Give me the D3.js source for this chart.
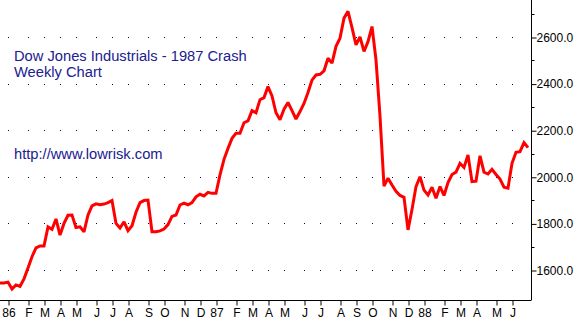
<!DOCTYPE html>
<html>
<head>
<meta charset="utf-8">
<script src="https://cdn.jsdelivr.net/npm/d3@7"></script>
<style>
    body { margin: 0; background: #ffffff; }
    svg { display: block; }
</style>
</head>
<body>
<svg id="dow-chart" width="577" height="319"></svg>
<script>
// Weekly closes (Friday)
var firstWeek = new Date(1985, 11, 20);
var lastWeek = new Date(1988, 6, 2);
var weeklyCloses = [
    1544, 1544, 1548, 1518, 1536, 1530, 1562, 1609, 1657, 1695, 1703, 1703,
    1785, 1775, 1819, 1750, 1800, 1835, 1836, 1782, 1785, 1764, 1836, 1875,
    1884, 1880, 1883, 1889, 1898, 1800, 1780, 1807, 1769, 1790, 1848, 1889,
    1898, 1900, 1764, 1764, 1768, 1776, 1795, 1830, 1836, 1879, 1887, 1880,
    1889, 1914, 1925, 1918, 1933, 1929, 1929, 2008, 2075, 2122, 2165, 2187,
    2187, 2232, 2240, 2284, 2275, 2331, 2340, 2387, 2347, 2275, 2245, 2290,
    2319, 2284, 2248, 2280, 2315, 2362, 2415, 2437, 2440, 2455, 2509, 2488,
    2560, 2595, 2681, 2710, 2640, 2566, 2600, 2538, 2580, 2645, 2502, 2260,
    1960, 1994, 1965, 1938, 1920, 1912, 1772, 1860, 1958, 2000, 1943, 1922,
    1955, 1908, 1958, 1920, 1975, 2010, 2020, 2058, 2040, 2094, 1979, 1981,
    2090, 2020, 2012, 2032, 2010, 1990, 1955, 1951, 2058, 2105, 2108, 2147,
    2125
];
var majorTicks = [1600, 1800, 2000, 2200, 2400, 2600];
var minorTicks = [1700, 1900, 2100, 2300, 2500, 2700];
var titleLines = ["Dow Jones Industrials - 1987 Crash", "Weekly Chart"];
var siteLabel = "http://www.lowrisk.com";
var monthLetters = ["J", "F", "M", "A", "M", "J", "J", "A", "S", "O", "N", "D"];

var svg = d3.select("svg#dow-chart");
var axisX = 531,
    axisY = 300;

var textColor = "#202090";
var gridColor = "#000080";
var lineColor = "#ff0000";
var labelFont = "Arial, 'Liberation Sans', sans-serif";

var weeks = d3.timeFriday.range(firstWeek, lastWeek);
var series = weeks.map(function (d, i) {
    return { date: d, close: weeklyCloses[i] };
});

// Scales
var xScale = d3.scaleTime()
    .domain([weeks[0], weeks[weeks.length - 1]])
    .range([0, 4 * (weeks.length - 1)]);

var yScale = d3.scaleLinear()
    .domain([1600, 2600])
    .range([270, 37]);

// Month ticks sit on the first weekly bar of each month (none on the last bar)
var monthStarts = weeks.filter(function (d, i) {
    return i > 0 && i < weeks.length - 1 && d.getMonth() !== weeks[i - 1].getMonth();
});

var monthLabel = function (d) {
    return d.getMonth() === 0 ? d3.timeFormat("%y")(d) : monthLetters[d.getMonth()];
};

// Dotted grid: one dot per month per major level
var dots = [];
majorTicks.forEach(function (v) {
    monthStarts.forEach(function (d) {
        dots.push({ x: Math.round(xScale(d)), y: Math.round(yScale(v)) });
    });
});
svg.append("g")
    .selectAll("rect")
    .data(dots)
    .enter()
    .append("rect")
    .attr("x", d => d.x)
    .attr("y", d => d.y)
    .attr("width", 1)
    .attr("height", 1)
    .attr("fill", gridColor);

// Bottom axis
var xAxis = d3.axisBottom(xScale)
    .tickValues(monthStarts)
    .tickSize(5)
    .tickSizeOuter(0)
    .tickFormat(monthLabel);

var xAxisG = svg.append("g")
    .attr("transform", "translate(0.5," + (axisY + 0.5) + ")")
    .call(xAxis);
xAxisG.select(".domain").attr("d", "M-1,0H" + (axisX - 0.5));
xAxisG.selectAll("text")
    .attr("y", 8)
    .attr("dy", "0.71em")
    .attr("font-family", labelFont)
    .attr("font-size", "12px")
    .attr("fill", "#000");

// Right axis with major labels and small minor ticks
var yAxis = d3.axisRight(yScale)
    .tickValues(majorTicks)
    .tickSize(5)
    .tickSizeOuter(0)
    .tickFormat(d3.format(".1f"));

var yAxisG = svg.append("g")
    .attr("transform", "translate(" + (axisX + 0.5) + ",0.5)")
    .call(yAxis);
yAxisG.select(".domain").attr("d", "M0,-1V" + axisY);
yAxisG.selectAll("text")
    .attr("x", 5)
    .attr("font-family", labelFont)
    .attr("font-size", "12px")
    .attr("fill", "#000");

yAxisG.selectAll(".minor")
    .data(minorTicks)
    .enter()
    .append("line")
    .attr("class", "minor")
    .attr("x1", 0)
    .attr("x2", 3)
    .attr("y1", d => Math.round(yScale(d)))
    .attr("y2", d => Math.round(yScale(d)))
    .attr("stroke", "#000");

// Price line
var line = d3.line()
    .x(d => xScale(d.date))
    .y(d => yScale(d.close));

svg.append("path")
    .datum(series)
    .attr("d", line)
    .attr("fill", "none")
    .attr("stroke", lineColor)
    .attr("stroke-width", 3)
    .attr("stroke-linejoin", "miter")
    .attr("stroke-miterlimit", 2);

// Titles
svg.selectAll(".title")
    .data(titleLines)
    .enter()
    .append("text")
    .attr("class", "title")
    .attr("x", 14)
    .attr("y", (d, i) => 61 + i * 16)
    .attr("font-family", labelFont)
    .attr("font-size", "14.7px")
    .attr("fill", textColor)
    .text(d => d);

svg.append("text")
    .attr("x", 14)
    .attr("y", 159)
    .attr("font-family", labelFont)
    .attr("font-size", "14.7px")
    .attr("fill", textColor)
    .text(siteLabel);
</script>
</body>
</html>
